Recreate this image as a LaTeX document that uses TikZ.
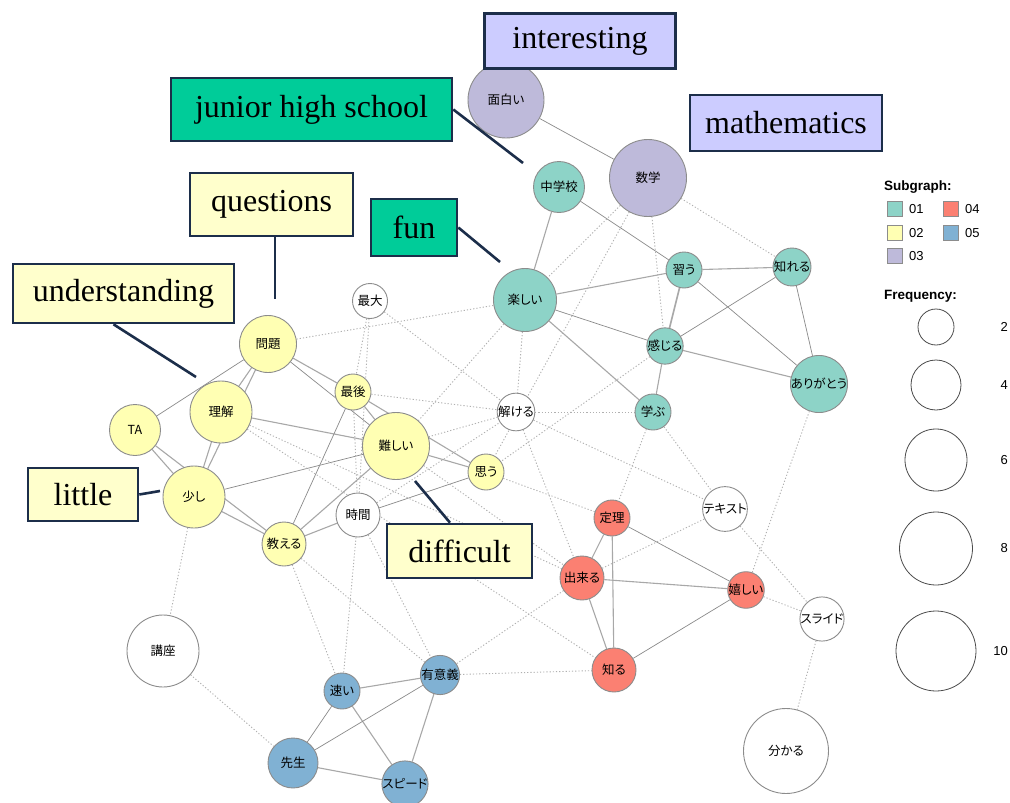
\documentclass[tikz,border=0pt]{standalone}
\usepackage{fontspec}
\setmainfont{Liberation Serif}
\setsansfont{Liberation Sans}
\newfontfamily\jpfont[RawFeature=+palt]{Noto Sans CJK JP}
\usetikzlibrary{calc}
\pgfdeclarelayer{bg}
\pgfsetlayers{bg,main}

\definecolor{sgA}{HTML}{8DD3C7}
\definecolor{sgB}{HTML}{FFFFB3}
\definecolor{sgC}{HTML}{BEBADA}
\definecolor{sgD}{HTML}{FB8072}
\definecolor{sgE}{HTML}{80B1D3}
\definecolor{rim}{HTML}{8C8C8C}
\definecolor{edgeSolid}{HTML}{A8A8A8}
\definecolor{edgeDark}{HTML}{8A8A8A}
\definecolor{edgeDot}{HTML}{B0B0B0}
\definecolor{navy}{HTML}{1C2E4A}
\definecolor{boxLav}{HTML}{CCCCFF}
\definecolor{boxTeal}{HTML}{00CC99}
\definecolor{boxCream}{HTML}{FFFFCC}

\tikzset{
  word/.style={circle, draw=rim, line width=0.9pt, inner sep=0pt,
    font=\jpfont\fontsize{12.5}{12.5}\selectfont, text=black},
  strong/.style={draw=edgeSolid, line width=1.1pt},
  thin/.style={draw=edgeDark, line width=0.7pt},
  weak/.style={draw=edgeDot, line width=0.9pt, dash pattern=on 1.2pt off 2pt},
  callout/.style={draw=navy, line width=2.6pt, inner sep=0pt,
    font=\fontsize{32}{32}\selectfont},
  pointer/.style={draw=navy, line width=2.6pt},
  legtitle/.style={font=\sffamily\bfseries\fontsize{13.5}{13.5}\selectfont, anchor=west, inner sep=0pt},
  leglabel/.style={font=\sffamily\fontsize{13}{13}\selectfont, inner sep=0pt},
  swatch/.style={draw=rim, line width=0.9pt, minimum size=15pt, inner sep=0pt},
  sizecircle/.style={circle, draw=black!70, line width=0.8pt, inner sep=0pt}
}

\begin{document}
\begin{tikzpicture}[x=1pt, y=-1pt]
\useasboundingbox (0,0) rectangle (1010,803);

% ---- word nodes ----
% subgraph 03
\node[word, fill=sgC, minimum size=76pt] (omoshiroi) at (506,100) {面白い};
\node[word, fill=sgC, minimum size=77pt] (sugaku) at (648,178) {数学};
% subgraph 01
\node[word, fill=sgA, minimum size=51pt] (chugakko) at (559,187) {中学校};
\node[word, fill=sgA, minimum size=63pt] (tanoshii) at (525,300) {楽しい};
\node[word, fill=sgA, minimum size=36pt] (narau) at (684,270) {習う};
\node[word, fill=sgA, minimum size=36pt] (shireru) at (792,267) {知れる};
\node[word, fill=sgA, minimum size=36pt] (kanjiru) at (665,346) {感じる};
\node[word, fill=sgA, minimum size=44pt] (arigato) at (819,384) {ありがとう};
\node[word, fill=sgA, minimum size=36pt] (manabu) at (653,412) {学ぶ};
% subgraph 02
\node[word, fill=sgB, minimum size=57pt] (mondai) at (268,344) {問題};
\node[word, fill=sgB, minimum size=36pt] (saigo) at (353,392) {最後};
\node[word, fill=sgB, minimum size=62pt] (rikai) at (221,412) {理解};
\node[word, fill=sgB, minimum size=51pt] (ta) at (135,430) {TA};
\node[word, fill=sgB, minimum size=67pt] (muzukashii) at (396,446) {難しい};
\node[word, fill=sgB, minimum size=36pt] (omou) at (486,472) {思う};
\node[word, fill=sgB, minimum size=62pt] (sukoshi) at (194,497) {少し};
\node[word, fill=sgB, minimum size=44pt] (oshieru) at (284,544) {教える};
% subgraph 04
\node[word, fill=sgD, minimum size=36pt] (teiri) at (612,518) {定理};
\node[word, fill=sgD, minimum size=44pt] (dekiru) at (582,578) {出来る};
\node[word, fill=sgD, minimum size=36pt] (ureshii) at (746,590) {嬉しい};
\node[word, fill=sgD, minimum size=44pt] (shiru) at (614,670) {知る};
% subgraph 05
\node[word, fill=sgE, minimum size=36pt] (hayai) at (342,691) {速い};
\node[word, fill=sgE, minimum size=36pt] (yuigi) at (440,675) {有意義};
\node[word, fill=sgE, minimum size=50pt] (sensei) at (293,763) {先生};
\node[word, fill=sgE, minimum size=44pt] (supido) at (405,784) {スピード};
% unassigned words
\node[word, fill=white, minimum size=35pt] (saidai) at (370,301) {最大};
\node[word, fill=white, minimum size=36pt] (tokeru) at (516,412) {解ける};
\node[word, fill=white, minimum size=44pt] (jikan) at (358,515) {時間};
\node[word, fill=white, minimum size=36pt] (tekisuto) at (725,509) {テキスト};
\node[word, fill=white, minimum size=44pt] (suraido) at (822,619) {スライド};
\node[word, fill=white, minimum size=85pt] (wakaru) at (786,751) {分かる};
\node[word, fill=white, minimum size=72pt] (koza) at (163,651) {講座};

% ---- co-occurrence edges, kept beneath the words ----
\begin{pgfonlayer}{bg}
\fill[white] (0,0) rectangle (1010,803);
% within subgraphs
\draw[thin] (omoshiroi) -- (sugaku);
\draw[strong] (chugakko) -- (tanoshii);
\draw[thin] (chugakko) -- (narau);
\draw[strong] (tanoshii) -- (narau);
\draw[thin] (tanoshii) -- (kanjiru);
\draw[strong] (tanoshii) -- (manabu);
\draw[strong] (narau) -- (shireru);
\draw[strong, line width=1.6pt] (narau) -- (kanjiru);
\draw[thin] (narau) -- (arigato);
\draw[thin] (shireru) -- (kanjiru);
\draw[thin] (shireru) -- (arigato);
\draw[strong] (kanjiru) -- (arigato);
\draw[strong] (kanjiru) -- (manabu);

\draw[thin] (ta) -- (mondai);
\draw[strong] (mondai) -- (rikai);
\draw[strong] (mondai) -- (sukoshi);
\draw[strong] (rikai) -- (sukoshi);
\draw[strong] (ta) -- (sukoshi);
\draw[strong] (ta) -- (oshieru);
\draw[strong] (sukoshi) -- (oshieru);
\draw[strong] (mondai) -- (saigo);
\draw[thin] (mondai) -- (muzukashii);
\draw[strong] (saigo) -- (muzukashii);
\draw[strong] (saigo) -- (omou);
\draw[strong] (muzukashii) -- (omou);
\draw[strong] (rikai) -- (muzukashii);
\draw[thin] (sukoshi) -- (muzukashii);
\draw[thin] (saigo) -- (oshieru);
\draw[strong] (muzukashii) -- (oshieru);
\draw[strong] (oshieru) -- (jikan);
\draw[thin] (jikan) -- (omou);

\draw[strong] (teiri) -- (dekiru);
\draw[strong] (teiri) -- (shiru);
\draw[thin] (teiri) -- (ureshii);
\draw[strong] (dekiru) -- (ureshii);
\draw[strong] (dekiru) -- (shiru);
\draw[thin] (shiru) -- (ureshii);

\draw[strong] (hayai) -- (yuigi);
\draw[thin] (hayai) -- (sensei);
\draw[strong] (hayai) -- (supido);
\draw[thin] (yuigi) -- (sensei);
\draw[strong] (yuigi) -- (supido);
\draw[strong] (sensei) -- (supido);

% between subgraphs
\draw[weak] (sugaku) -- (tanoshii);
\draw[weak] (sugaku) -- (kanjiru);
\draw[weak] (sugaku) -- (shireru);
\draw[weak] (sugaku) -- (omou);
\draw[weak] (mondai) -- (tanoshii);
\draw[weak] (tanoshii) -- (tokeru);
\draw[weak] (tanoshii) -- (muzukashii);
\draw[weak] (saidai) -- (saigo);
\draw[weak] (saidai) -- (jikan);
\draw[weak] (saidai) -- (tokeru);
\draw[weak] (saigo) -- (tokeru);
\draw[weak] (saigo) -- (jikan);
\draw[weak] (muzukashii) -- (tokeru);
\draw[weak] (jikan) -- (tokeru);
\draw[weak] (tokeru) -- (manabu);
\draw[weak] (tokeru) -- (tekisuto);
\draw[weak] (tokeru) -- (dekiru);
\draw[weak] (kanjiru) -- (omou);
\draw[weak] (omou) -- (teiri);
\draw[weak] (manabu) -- (teiri);
\draw[weak] (manabu) -- (tekisuto);
\draw[weak] (muzukashii) -- (dekiru);
\draw[weak] (rikai) -- (dekiru);
\draw[weak] (rikai) -- (shiru);
\draw[weak] (dekiru) -- (tekisuto);
\draw[weak] (dekiru) -- (yuigi);
\draw[weak] (yuigi) -- (shiru);
\draw[weak] (jikan) -- (yuigi);
\draw[weak] (jikan) -- (hayai);
\draw[weak] (oshieru) -- (hayai);
\draw[weak] (oshieru) -- (yuigi);
\draw[weak] (sukoshi) -- (koza);
\draw[weak] (koza) -- (sensei);
\draw[weak] (tekisuto) -- (suraido);
\draw[weak] (ureshii) -- (suraido);
\draw[weak] (arigato) -- (ureshii);
\draw[weak] (suraido) -- (wakaru);
\end{pgfonlayer}

% ---- English callouts ----
\node[callout, fill=boxLav, minimum width=191pt, minimum height=55pt] (cInteresting) at (580,41) {interesting};
\node[callout, fill=boxTeal, minimum width=281pt, minimum height=63pt] (cJunior) at (311.5,109.5) {junior high school};
\node[callout, fill=boxLav, minimum width=192pt, minimum height=56pt] (cMath) at (786,123) {mathematics};
\node[callout, fill=boxCream, minimum width=163pt, minimum height=63pt] (cQuestions) at (271.5,204.5) {questions};
\node[callout, fill=boxTeal, minimum width=86pt, minimum height=57pt] (cFun) at (414,227.5) {fun};
\node[callout, fill=boxCream, minimum width=221pt, minimum height=59pt] (cUnderstanding) at (123.5,293.5) {understanding};
\node[callout, fill=boxCream, minimum width=110pt, minimum height=53pt] (cLittle) at (83,494.5) {little};
\node[callout, fill=boxCream, minimum width=145pt, minimum height=54pt] (cDifficult) at (459.5,551) {difficult};

\coordinate (tipJunior) at (523,163);
\coordinate (tipQuestions) at (275,299);
\coordinate (tipFun) at (500,262);
\coordinate (tipUnderstanding) at (196,377);
\coordinate (tipLittle) at (160,491);
\coordinate (tipDifficult) at (415,481);

\draw[pointer] (cJunior.east) -- (tipJunior);
\draw[pointer] (cQuestions.south -| tipQuestions) -- (tipQuestions);
\draw[pointer] (cFun.east) -- (tipFun);
\draw[pointer] ($(cUnderstanding.south)+(-10,0)$) -- (tipUnderstanding);
\draw[pointer] (cLittle.east) -- (tipLittle);
\draw[pointer] ($(cDifficult.north)+(-9.5,0)$) -- (tipDifficult);

% ---- legend ----
\node[legtitle] (lgSub) at (884,187) {Subgraph:};
\node[swatch, fill=sgA] (swA) at (895,209) {};
\node[swatch, fill=sgB] (swB) at (895,233) {};
\node[swatch, fill=sgC] (swC) at (895,256) {};
\node[swatch, fill=sgD] (swD) at (951,209) {};
\node[swatch, fill=sgE] (swE) at (951,233) {};
\node[leglabel, anchor=west] at ($(swA.east)+(6,0)$) {01};
\node[leglabel, anchor=west] at ($(swB.east)+(6,0)$) {02};
\node[leglabel, anchor=west] at ($(swC.east)+(6,0)$) {03};
\node[leglabel, anchor=west] at ($(swD.east)+(6,0)$) {04};
\node[leglabel, anchor=west] at ($(swE.east)+(6,0)$) {05};

\node[legtitle] (lgFreq) at (884,296) {Frequency:};
\node[sizecircle, minimum size=36pt] (fq2) at (936,327) {};
\node[sizecircle, minimum size=50pt] (fq4) at (936,385) {};
\node[sizecircle, minimum size=62pt] (fq6) at (936,460) {};
\node[sizecircle, minimum size=73pt] (fq8) at (936,548.5) {};
\node[sizecircle, minimum size=80pt] (fq10) at (936,651) {};
\node[leglabel, anchor=east] at (1008,327) {2};
\node[leglabel, anchor=east] at (1008,385) {4};
\node[leglabel, anchor=east] at (1008,460) {6};
\node[leglabel, anchor=east] at (1008,548.5) {8};
\node[leglabel, anchor=east] at (1008,651) {10};
\end{tikzpicture}
\end{document}
